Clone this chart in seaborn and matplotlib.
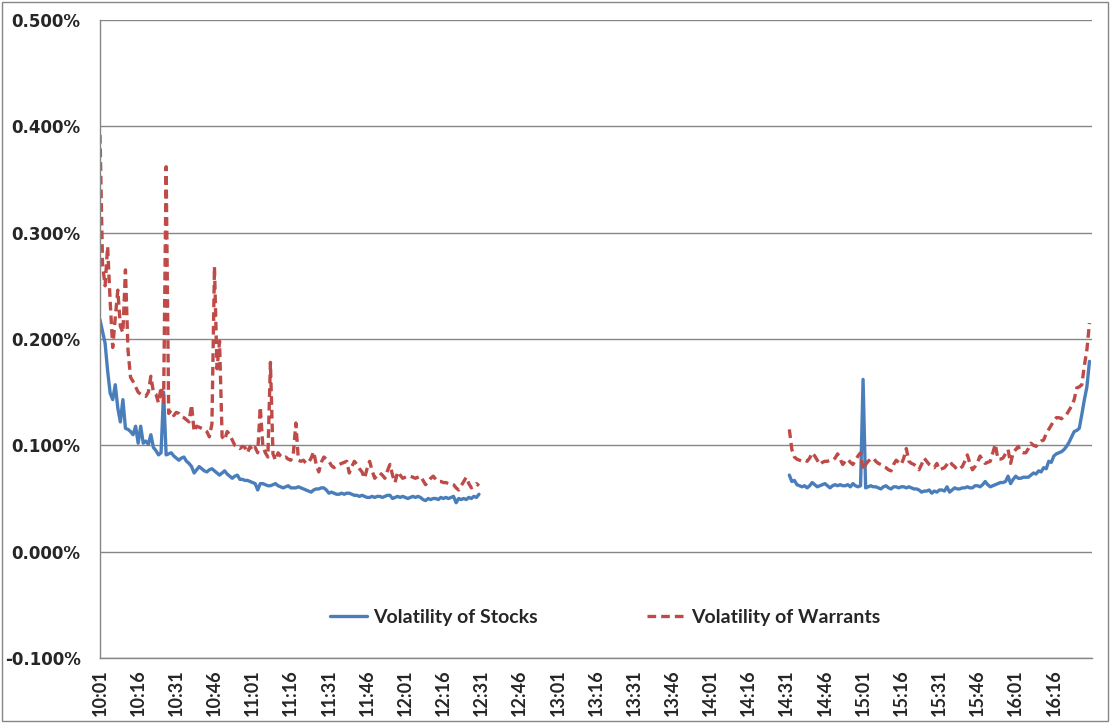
import numpy as np
import pandas as pd
import matplotlib
matplotlib.use("Agg")
import matplotlib.pyplot as plt
import matplotlib.ticker as mticker
from matplotlib.patches import Rectangle
import seaborn as sns

# volatility in percent, one value per minute
# morning session starts 10:01, afternoon session starts 14:32
am_start = "10:01"
pm_start = "14:32"

stocks_am = [
    0.218, 0.207, 0.196, 0.170, 0.149, 0.143, 0.157, 0.135, 0.122, 0.143,
    0.116, 0.115, 0.113, 0.110, 0.118, 0.102, 0.118, 0.102, 0.104, 0.101,
    0.110, 0.098, 0.095, 0.091, 0.093, 0.150, 0.091, 0.092, 0.093, 0.090,
    0.088, 0.086, 0.088, 0.089, 0.085, 0.083, 0.080, 0.074, 0.077, 0.080,
    0.078, 0.076, 0.075, 0.077, 0.078, 0.076, 0.074, 0.072, 0.074, 0.076,
    0.073, 0.071, 0.069, 0.071, 0.072, 0.068, 0.068, 0.067, 0.067, 0.066,
    0.065, 0.064, 0.058, 0.064, 0.064, 0.063, 0.062, 0.062, 0.063, 0.064,
    0.062, 0.061, 0.060, 0.061, 0.062, 0.060, 0.060, 0.060, 0.061, 0.060,
    0.059, 0.058, 0.057, 0.056, 0.058, 0.059, 0.059, 0.060, 0.060, 0.058,
    0.055, 0.056, 0.055, 0.054, 0.054, 0.055, 0.054, 0.055, 0.055, 0.054,
    0.053, 0.053, 0.052, 0.053, 0.052, 0.051, 0.051, 0.052, 0.051, 0.052,
    0.052, 0.051, 0.052, 0.053, 0.053, 0.050, 0.051, 0.052, 0.051, 0.052,
    0.051, 0.050, 0.051, 0.052, 0.051, 0.052, 0.051, 0.049, 0.048, 0.050,
    0.049, 0.050, 0.050, 0.049, 0.051, 0.050, 0.051, 0.050, 0.051, 0.052,
    0.046, 0.050, 0.049, 0.050, 0.049, 0.051, 0.050, 0.052, 0.051, 0.054,
]

warrants_am = [
    0.392, 0.270, 0.250, 0.287, 0.235, 0.192, 0.220, 0.246, 0.212, 0.206,
    0.265, 0.190, 0.164, 0.160, 0.155, 0.150, 0.148, 0.147, 0.146, 0.150,
    0.165, 0.150, 0.148, 0.140, 0.155, 0.140, 0.362, 0.130, 0.133, 0.128,
    0.131, 0.130, 0.127, 0.126, 0.124, 0.122, 0.138, 0.113, 0.118, 0.117,
    0.116, 0.115, 0.113, 0.108, 0.120, 0.268, 0.172, 0.198, 0.108, 0.105,
    0.113, 0.110, 0.105, 0.100, 0.099, 0.097, 0.099, 0.098, 0.093, 0.099,
    0.095, 0.098, 0.093, 0.136, 0.100, 0.093, 0.089, 0.178, 0.092, 0.086,
    0.093, 0.090, 0.088, 0.089, 0.087, 0.086, 0.092, 0.121, 0.086, 0.085,
    0.086, 0.083, 0.084, 0.088, 0.094, 0.082, 0.075, 0.084, 0.089, 0.087,
    0.085, 0.081, 0.079, 0.081, 0.082, 0.083, 0.084, 0.085, 0.074, 0.080,
    0.085, 0.082, 0.078, 0.075, 0.069, 0.078, 0.085, 0.076, 0.069, 0.072,
    0.074, 0.072, 0.069, 0.076, 0.082, 0.072, 0.065, 0.075, 0.072, 0.069,
    0.070, 0.071, 0.071, 0.070, 0.069, 0.070, 0.071, 0.067, 0.063, 0.066,
    0.069, 0.071, 0.068, 0.066, 0.066, 0.065, 0.065, 0.064, 0.064, 0.063,
    0.060, 0.058, 0.062, 0.066, 0.070, 0.064, 0.060, 0.062, 0.064, 0.062,
]

stocks_pm = [
    0.072, 0.066, 0.067, 0.063, 0.062, 0.061, 0.062, 0.060, 0.062, 0.065,
    0.063, 0.061, 0.062, 0.063, 0.064, 0.062, 0.060, 0.062, 0.063, 0.062,
    0.063, 0.062, 0.062, 0.063, 0.061, 0.064, 0.062, 0.061, 0.062, 0.162,
    0.060, 0.061, 0.062, 0.061, 0.061, 0.060, 0.059, 0.061, 0.062, 0.060,
    0.059, 0.061, 0.061, 0.060, 0.061, 0.061, 0.060, 0.061, 0.060, 0.059,
    0.059, 0.058, 0.056, 0.057, 0.057, 0.058, 0.055, 0.057, 0.056, 0.058,
    0.058, 0.057, 0.061, 0.056, 0.058, 0.060, 0.059, 0.059, 0.060, 0.060,
    0.061, 0.060, 0.060, 0.062, 0.062, 0.061, 0.063, 0.066, 0.063, 0.061,
    0.062, 0.063, 0.064, 0.065, 0.065, 0.066, 0.071, 0.064, 0.068, 0.071,
    0.069, 0.069, 0.070, 0.070, 0.070, 0.072, 0.074, 0.073, 0.076, 0.075,
    0.079, 0.078, 0.085, 0.084, 0.090, 0.092, 0.093, 0.094, 0.096, 0.099,
    0.103, 0.108, 0.113, 0.114, 0.116, 0.129, 0.143, 0.155, 0.179,
]

warrants_pm = [
    0.115, 0.096, 0.089, 0.087, 0.086, 0.085, 0.086, 0.085, 0.088, 0.093,
    0.090, 0.086, 0.082, 0.084, 0.085, 0.085, 0.086, 0.086, 0.088, 0.092,
    0.087, 0.082, 0.085, 0.087, 0.084, 0.082, 0.086, 0.090, 0.093, 0.077,
    0.082, 0.085, 0.087, 0.088, 0.085, 0.083, 0.082, 0.080, 0.079, 0.077,
    0.076, 0.082, 0.086, 0.084, 0.082, 0.088, 0.097, 0.085, 0.083, 0.082,
    0.080, 0.077, 0.082, 0.088, 0.085, 0.082, 0.080, 0.079, 0.083, 0.077,
    0.078, 0.079, 0.082, 0.085, 0.082, 0.080, 0.077, 0.078, 0.080, 0.085,
    0.091, 0.083, 0.077, 0.080, 0.084, 0.090, 0.086, 0.083, 0.084, 0.085,
    0.093, 0.101, 0.087, 0.087, 0.088, 0.092, 0.096, 0.083, 0.093, 0.096,
    0.099, 0.094, 0.093, 0.093, 0.097, 0.102, 0.100, 0.099, 0.102, 0.104,
    0.105, 0.111, 0.115, 0.119, 0.123, 0.126, 0.126, 0.125, 0.127, 0.129,
    0.133, 0.137, 0.143, 0.154, 0.155, 0.157, 0.175, 0.190, 0.215,
]

tick_labels = ["10:01", "10:16", "10:31", "10:46", "11:01", "11:16", "11:31",
               "11:46", "12:01", "12:16", "12:31", "12:46", "13:01", "13:16",
               "13:31", "13:46", "14:01", "14:16", "14:31", "14:46", "15:01",
               "15:16", "15:31", "15:46", "16:01", "16:16", ""]
y_ticks = [-0.1, 0.0, 0.1, 0.2, 0.3, 0.4, 0.5]

BLUE = "#4a7ebb"
RED = "#be4b48"
GRID = "#868686"


def minutes_from_open(start, n):
    t0 = pd.Timestamp("2000-01-01 " + am_start)
    times = pd.date_range("2000-01-01 " + start, periods=n, freq="min")
    return ((times - t0) / pd.Timedelta(minutes=1)).to_numpy()


sessions = []
for name, am, pm in [("Volatility of Stocks", stocks_am, stocks_pm),
                     ("Volatility of Warrants", warrants_am, warrants_pm)]:
    sessions.append(pd.DataFrame({"minute": minutes_from_open(am_start, len(am)),
                                  "vol": am, "series": name, "session": "am"}))
    sessions.append(pd.DataFrame({"minute": minutes_from_open(pm_start, len(pm)),
                                  "vol": pm, "series": name, "session": "pm"}))
df = pd.concat(sessions, ignore_index=True)

sns.set_style("white")
fig = plt.figure(figsize=(11.1, 7.24), dpi=100)
ax = fig.add_axes([100 / 1110, 1 - 658 / 724, 992 / 1110, 638 / 724])

styles = {"Volatility of Stocks": dict(color=BLUE, linestyle="-"),
          "Volatility of Warrants": dict(color=RED, linestyle=(0, (2.6, 1.5)))}
for (series, session), sub in df.groupby(["series", "session"], sort=False):
    sns.lineplot(data=sub, x="minute", y="vol", ax=ax, lw=2.4,
                 label=series if session == "am" else None,
                 **styles[series])

ax.set_xlim(0, 390)
ax.set_ylim(-0.1, 0.5)
ax.set_xticks(np.arange(0, 391, 15))
ax.set_xticklabels(tick_labels, rotation=90, fontsize=13,
                   fontweight="bold", family=["Lato", "DejaVu Sans"])
ax.set_yticks(y_ticks)
ax.yaxis.set_major_formatter(mticker.FuncFormatter(lambda v, p: f"{v:.3f}%"))
for lab in ax.get_yticklabels():
    lab.set_fontweight("bold")
    lab.set_fontsize(12)
    lab.set_family("DejaVu Sans")
ax.set_xlabel("")
ax.set_ylabel("")

ax.yaxis.grid(True, color=GRID, lw=1)
ax.set_axisbelow(True)
for side in ["top", "right"]:
    ax.spines[side].set_visible(False)
for side in ["left", "bottom"]:
    ax.spines[side].set_color(GRID)
    ax.spines[side].set_linewidth(1)
ax.tick_params(axis="both", which="major", length=5, width=1, color=GRID,
               direction="out")
ax.tick_params(axis="y", pad=9)
ax.tick_params(axis="x", pad=3)

leg = ax.legend(loc="center", bbox_to_anchor=(0.509, 0.064), ncol=2,
                frameon=False, handlelength=1.9, handletextpad=0.36,
                columnspacing=5.6,
                prop={"family": ["Lato", "DejaVu Sans"], "weight": "bold", "size": 14})

fig.patches.append(Rectangle((0.002, 0.004), 0.996, 0.993, transform=fig.transFigure,
                             fill=False, edgecolor=GRID, lw=1))

fig.savefig("out.png", dpi=100)
